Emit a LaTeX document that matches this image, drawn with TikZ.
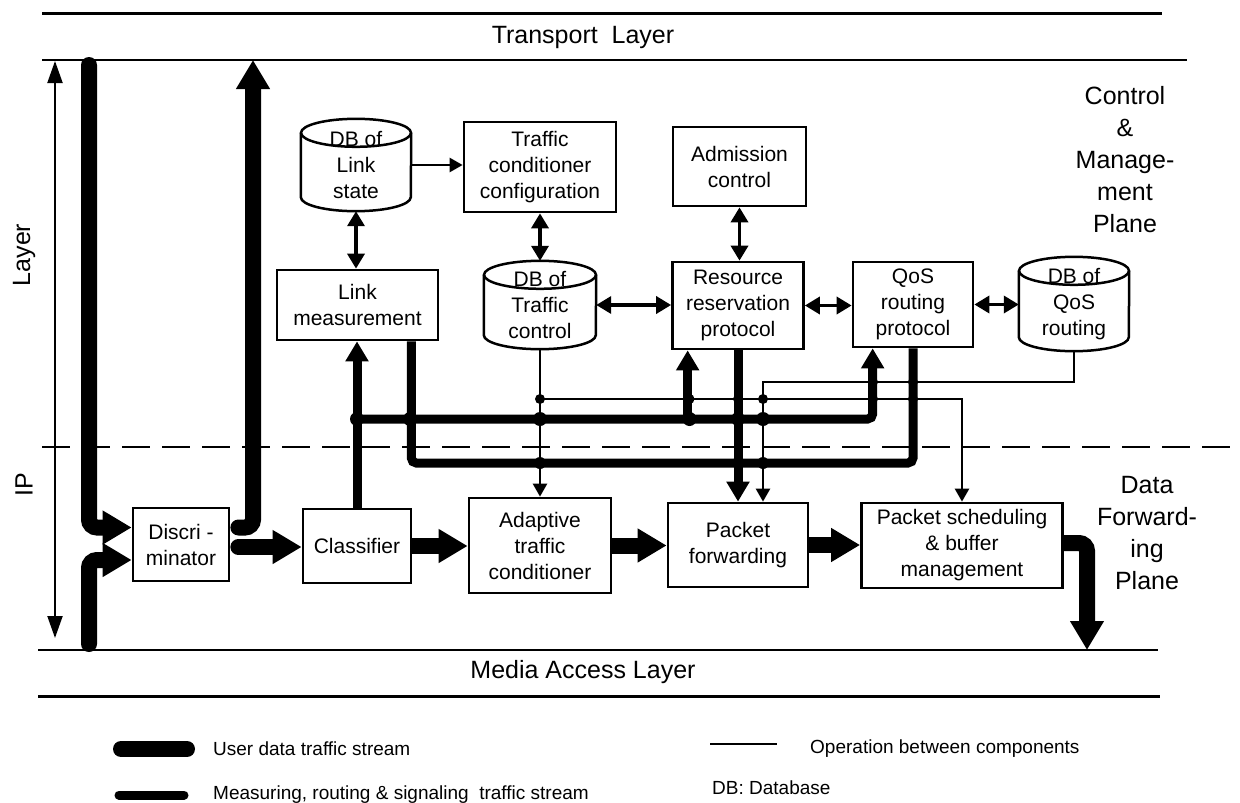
\documentclass[tikz,border=0pt]{standalone}
\usepackage{fontspec}
\setmainfont{Liberation Sans}
\usetikzlibrary{arrows.meta,calc}
\newcommand\dbshape[2]{%
  \draw[line width=2.5pt] ($(#1.north west)+(0,14)$) -- ($(#1.south west)+(0,-14)$)
     arc[start angle=180,end angle=360,x radius=#2pt,y radius=14pt] -- ($(#1.north east)+(0,14)$);
  \draw[line width=2.5pt] ($(#1.north)+(0,14)$) ellipse[x radius=#2pt,y radius=14pt];}
\begin{document}
\begin{tikzpicture}[x=1pt,y=-1pt,
  box/.style={draw, line width=2.7pt, inner sep=0pt, align=center, font=\fontsize{21}{26}\selectfont},
  db/.style={inner sep=0pt, align=center, font=\fontsize{21}{26}\selectfont},
  title/.style={inner sep=0pt, font=\fontsize{25}{30}\selectfont},
  plane/.style={inner sep=0pt, align=center, font=\fontsize{25}{32}\selectfont},
  legend/.style={inner sep=0pt, anchor=west, font=\fontsize{19}{23}\selectfont},
  ud/.style={line width=16pt, rounded corners=8pt, -{Triangle[length=29pt,width=32pt]}},
  ms/.style={line width=9pt, rounded corners=5pt},
  msarr/.style={ms, -{Triangle[length=20pt,width=22pt]}},
  op/.style={line width=2.5pt, -{Triangle[length=13pt,width=14pt]}},
  bidir/.style={line width=3.5pt, {Triangle[length=15pt,width=17pt]}-{Triangle[length=15pt,width=17pt]}},
  ipdbl/.style={line width=2pt, {Triangle[length=22pt,width=15pt]}-{Triangle[length=22pt,width=15pt]}},
]
\useasboundingbox (0,0) rectangle (1240,803);

% layer lines
\draw[line width=3pt] (42,13) -- (1162,13);
\draw[line width=2pt] (42,60) -- (1187,60);
\draw[line width=2pt, dash pattern=on 28pt off 12pt] (42,447) -- (1240,447);
\draw[line width=2pt] (38,650) -- (1158,650);
\draw[line width=3pt] (38,696) -- (1160,696);

\node[title] (tl) at (583,37) {Transport\ \ Layer};
\node[title] (mal) at (583,672) {Media Access Layer};
\node[title, rotate=90] (lyr) at (24,255) {Layer};
\node[title, rotate=90] (ip) at (24,485) {IP};
\node[plane] (cmp) at (1125,160) {Control\\\&\\Manage-\\ment\\Plane};
\node[plane] (dfp) at (1147,533) {Data\\Forward-\\ing\\Plane};

% boxes
\node[box, minimum width=96pt, minimum height=73pt] (disc) at (181,544.5) {Discri -\\minator};
\node[box, minimum width=108pt, minimum height=74pt] (cls) at (357,546) {Classifier};
\node[box, minimum width=142pt, minimum height=95pt] (atc) at (540,545.5) {Adaptive\\traffic\\conditioner};
\node[box, minimum width=140pt, minimum height=84pt] (pf) at (738,545) {Packet\\forwarding};
\node[box, minimum width=201pt, minimum height=85pt] (ps) at (962,545.5) {Packet scheduling\\\& buffer\\management};
\node[box, minimum width=161pt, minimum height=70pt] (lm) at (357.5,305) {Link\\measurement};
\node[box, minimum width=152pt, minimum height=90pt] (tcc) at (540,167) {Traffic\\conditioner\\configuration};
\node[box, minimum width=133pt, minimum height=79pt] (ac) at (739.5,166.5) {Admission\\control};
\node[box, minimum width=131pt, minimum height=87pt] (rrp) at (738,305.5) {Resource\\reservation\\protocol};
\node[box, minimum width=120pt, minimum height=85pt] (qos) at (913,304.5) {QoS\\routing\\protocol};
\node[db, minimum width=110pt, minimum height=92pt] (dbls) at (356,165) {DB of\\Link\\state};
\node[db, minimum width=112pt, minimum height=88pt] (dbtc) at (540,305) {DB of\\Traffic\\control};
\node[db, minimum width=110pt, minimum height=94pt] (dbqos) at (1074,304) {DB of\\QoS\\routing};
\dbshape{dbls}{55}
\dbshape{dbtc}{56}
\dbshape{dbqos}{55}

% helper coordinates
\coordinate (ipt) at (55,61);
\coordinate (ipb) at (55,638);
\coordinate (inTop) at (89,65);
\coordinate (inBot) at (89,644);
\coordinate (outTop) at (253,60);
\coordinate (toMedia) at (1087,650);
\coordinate (d1) at ($(disc.west)+(0,-17)$);
\coordinate (d2) at ($(disc.west)+(0,15.5)$);
\coordinate (d3) at ($(disc.east)+(8,-17)$);
\coordinate (d4) at ($(disc.east)+(8,2.5)$);
\coordinate (busU) at (0,419);
\coordinate (busL) at (0,463);
\coordinate (opU) at (0,399);
\coordinate (opQ) at (0,382);
\coordinate (qosIn) at ($(qos.south west)+(21,0)$);
\coordinate (rrpIn) at ($(rrp.south west)+(16.5,0)$);
\coordinate (lmOut) at ($(lm.south east)+(-28,0)$);
\coordinate (pfIn) at ($(pf.north)+(25,0)$);

% IP layer arrow
\draw[ipdbl] (ipt) -- (ipb);

% user data traffic
\draw[ud, line cap=round] (inTop) -- (inTop |- d1) -- (d1);
\draw[ud, line cap=round] (inBot) -- (inBot |- d2) -- (d2);
\draw[ud, line cap=round] (d3) -- (outTop |- d3) -- (outTop);
\draw[ud, line cap=round] (d4) -- (d4 -| cls.west);
\draw[ud] (cls.east) -- (cls.east -| atc.west);
\draw[ud] (atc.east) -- (atc.east -| pf.west);
\draw[ud] (pf.east) -- (pf.east -| ps.west);
\draw[ud] ($(ps.east)+(0,-2.5)$) -- ($(toMedia |- ps.east)+(0,-2.5)$) -- (toMedia);

% measuring, routing & signaling
\draw[msarr] (cls.north) -- (cls.north |- lm.south);
\draw[msarr] (cls.north |- busU) -- (qosIn |- busU) -- (qosIn);
\draw[msarr] (rrpIn |- busU) -- (rrpIn);
\draw[ms] (lmOut) -- (lmOut |- busL) -- (qos.south |- busL) -- (qos.south);
\draw[msarr] (rrp.south) -- (rrp.south |- pf.north);

% operations
\draw[op] (dbls.east) -- (dbls.east -| tcc.west);
\draw[op] (dbtc.south) -- (dbtc.south |- atc.north);
\draw[op] (dbtc.south |- opU) -- (ps.north |- opU) -- (ps.north);
\draw[op] (dbqos.south) -- (dbqos.south |- opQ) -- (pfIn |- opQ) -- (pfIn);

% bidirectional
\draw[bidir] (dbls.south) -- (dbls.south |- lm.north);
\draw[bidir] (tcc.south) -- (tcc.south |- dbtc.north);
\draw[bidir] (ac.south) -- (ac.south |- rrp.north);
\draw[bidir] (dbtc.east) -- (dbtc.east -| rrp.west);
\draw[bidir] (rrp.east) -- (rrp.east -| qos.west);
\draw[bidir] (qos.east) -- (qos.east -| dbqos.west);

% junction dots
\foreach \x in {357,410,540,689.5,738,763} \fill (\x,419) circle[radius=7pt];
\foreach \x in {540,738,763} \fill (\x,463) circle[radius=6pt];
\foreach \x in {540,689.5,738,763,873,913} \fill (\x,399) circle[radius=5pt];
\foreach \x in {873,913} \fill (\x,382) circle[radius=5pt];

% legend
\draw[line width=16pt, line cap=round] (121,749) -- (187,749);
\draw[line width=9pt, line cap=round] (119,795) -- (184,795);
\draw[line width=2.5pt] (710,744) -- (777,744);
\node[legend] (lg1) at (213,749) {User data traffic stream};
\node[legend] (lg2) at (213,795) {Measuring, routing \& signaling\ \ traffic stream};
\node[legend] (lg3) at (810,749) {Operation between components};
\node[legend] (lg4) at (712,788) {DB: Database};
\end{tikzpicture}
\end{document}
